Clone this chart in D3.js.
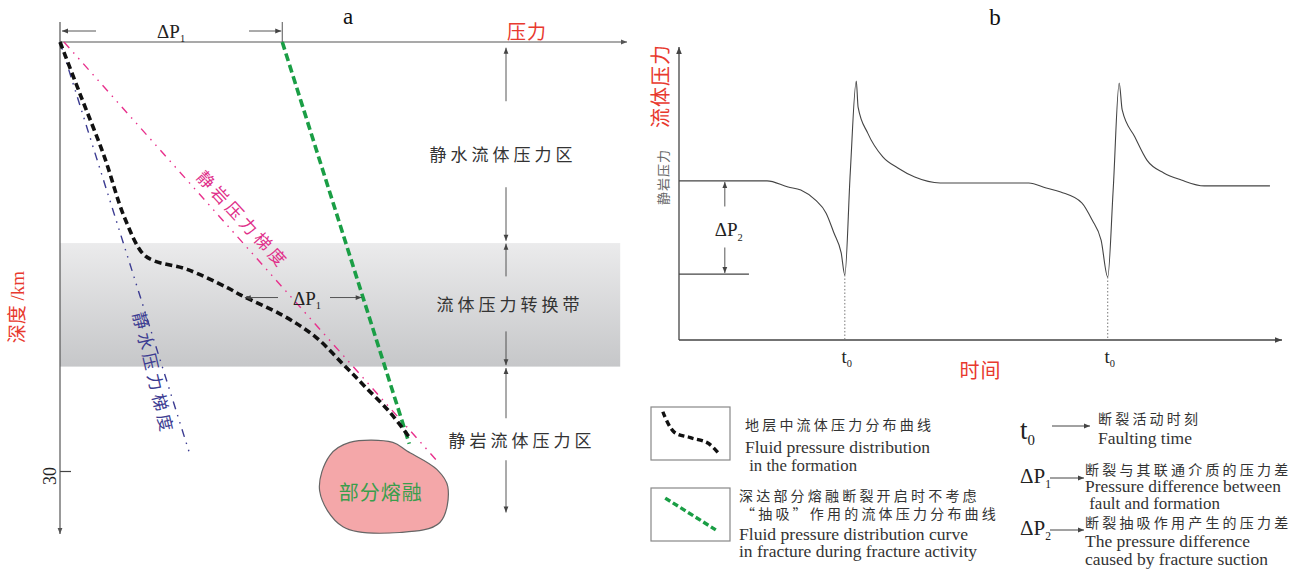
<!DOCTYPE html>
<html>
<head>
<meta charset="utf-8">
<script src="https://cdn.jsdelivr.net/npm/d3@7"></script>
<style>
  body { margin: 0; background: #fff; }
  svg { display: block; }
</style>
</head>
<body>
<svg width="1303" height="572"></svg>
<script>
// ---- panel a : pressure (relative units) vs depth (km) ----
var formationCurve = [[0,0],[3.4,3.5],[7.8,8.0],[11.3,12.2],[14.6,14.8],[16.6,15.3],[22.4,15.9],[29.6,17.2],
  [31.9,17.7],[39.2,19.1],[45.0,20.6],[50.1,22.6],[53.8,24.1],[58.2,25.9],[61.9,27.8]]
var fractureLine    = [[39.2,0],[61.6,28.1]]
var lithostaticLine = [[0.7,0],[66.3,29.2]]
var hydrostaticLine = [[0,0],[22.8,28.7]]
var meltOutline = [[45.8,31.4],[47.6,28.9],[51.1,28.0],[58.7,28.0],[61.2,28.6],[66.5,29.9],[68.4,31.1],
  [67.0,33.6],[59.9,34.3],[49.9,33.9]]
var transitionBand = [14.06, 22.7]
var zones = [
  {name: '静水流体压力区', top: 0.4,  bottom: 13.9},
  {name: '流体压力转换带', top: 14.1, bottom: 22.6},
  {name: '静岩流体压力区', top: 22.8, bottom: 32.9}
]
var depthTicks = [30]
var dp1Depth = 17.8

// ---- panel b : fluid pressure through time ----
var pressureSeries = [[0,54.3],[14.6,54.3],[18.1,52.2],[20.2,51.2],[22.6,47.8],[24.4,43.3],[25.7,36.5],[26.9,29.7],
  [27.5,22.2],[28.4,57.0],[29.4,88.4],[29.7,79.5],[31.3,70.6],[33.8,62.5],[36.3,58.7],[39.1,55.6],[43.3,53.6],
  [58.0,53.6],[60.9,51.9],[63.3,50.5],[66.8,46.8],[68.5,41.0],[70.0,34.1],[71.1,21.5],[72.0,51.2],[73.0,87.7],
  [73.5,78.5],[75.6,69.3],[77.6,61.4],[80.4,57.0],[83.3,54.6],[87.1,52.6],[98.0,52.6]]
var faultTimes = [27.5, 71.1]
var lithostaticLevel = 54.3
var suctionLevel = 22.5

// ---- legend ----
var legendCurves = [
  {zh: ['地层中流体压力分布曲线'], en: ['Fluid pressure distribution', ' in the formation'],
   sample: [[0.15,0.09],[0.29,0.47],[0.5,0.58],[0.72,0.68],[0.87,0.9]], kind: 'formation'},
  {zh: ['深达部分熔融断裂开启时不考虑', '“抽吸”作用的流体压力分布曲线'],
   en: ['Fluid pressure distribution curve', 'in fracture during fracture activity'],
   sample: [[0.18,0.19],[0.82,0.79]], kind: 'fracture'}
]
var symbolNotes = [
  {sym: 't', sub: '0', zh: '断裂活动时刻', en: ['Faulting time']},
  {sym: 'ΔP', sub: '1', zh: '断裂与其联通介质的压力差', en: ['Pressure difference between', ' fault and formation']},
  {sym: 'ΔP', sub: '2', zh: '断裂抽吸作用产生的压力差', en: ['The pressure difference', 'caused by fracture suction']}
]

var CJK = '"Noto Sans CJK SC", sans-serif'
var SERIF = '"Liberation Serif", "Times New Roman", serif'
var RED = '#e8392e'
var INK = '#333'

var svg = d3.select('svg')
var defs = svg.append('defs')

function marker(id, w, h, col) {
  defs.append('marker').attr('id', id)
    .attr('viewBox', '0 0 10 10').attr('refX', 10).attr('refY', 5)
    .attr('markerWidth', w).attr('markerHeight', h)
    .attr('markerUnits', 'userSpaceOnUse').attr('orient', 'auto')
    .append('path').attr('d', 'M0,1L10,5L0,9Z').attr('fill', col)
}
marker('tri', 7, 6, '#444')
marker('axis', 9, 7, '#444')
marker('thin', 8, 6, '#555')

var grad = defs.append('linearGradient').attr('id', 'band')
  .attr('x1', 0).attr('y1', 0).attr('x2', 0).attr('y2', 1)
grad.append('stop').attr('offset', '0%').attr('stop-color', '#ebebec')
grad.append('stop').attr('offset', '100%').attr('stop-color', '#c6c7c9')

function subText(g, x, y, main, sub, size, anchor) {
  var t = g.append('text').attr('x', x).attr('y', y)
    .attr('font-family', SERIF).attr('font-size', size).attr('fill', '#222')
    .attr('text-anchor', anchor || 'middle')
  t.append('tspan').text(main)
  t.append('tspan').attr('font-size', size * 0.55).attr('dy', size * 0.22).text(sub)
  return t
}

function arrow(g, x1, y1, x2, y2, m, w) {
  g.append('line').attr('x1', x1).attr('y1', y1).attr('x2', x2).attr('y2', y2)
    .attr('stroke', '#444').attr('stroke-width', w || 1)
    .attr('marker-end', 'url(#' + (m || 'tri') + ')')
}

// ================= panel a =================
var xA = d3.scaleLinear().domain([0, 100]).range([60, 627])
var yA = d3.scaleLinear().domain([0, 30]).range([42, 471])
var lineA = d3.line().x(d => xA(d[0])).y(d => yA(d[1]))
var ga = svg.append('g')

ga.append('rect')
  .attr('x', xA(0)).attr('width', xA(98.8) - xA(0))
  .attr('y', yA(transitionBand[0])).attr('height', yA(transitionBand[1]) - yA(transitionBand[0]))
  .attr('fill', 'url(#band)')

// axes
ga.append('line').attr('x1', xA(0)).attr('y1', yA(0)).attr('x2', xA(100)).attr('y2', yA(0))
  .attr('stroke', '#555').attr('stroke-width', 1.2).attr('marker-end', 'url(#thin)')
ga.append('line').attr('x1', xA(0)).attr('y1', yA(0) - 20).attr('x2', xA(0)).attr('y2', yA(34.4))
  .attr('stroke', '#555').attr('stroke-width', 1.2).attr('marker-end', 'url(#thin)')

var depthAxis = ga.append('g').attr('transform', 'translate(' + xA(0) + ',0)')
  .call(d3.axisRight(yA).tickValues(depthTicks).tickSize(11).tickFormat(''))
depthAxis.select('.domain').remove()
depthAxis.selectAll('line').attr('stroke', '#444').attr('stroke-width', 1.2)
depthTicks.forEach(function (t) {
  ga.append('text').attr('transform', 'translate(56,' + (yA(t) + 5) + ') rotate(-90)')
    .attr('text-anchor', 'middle').attr('font-family', SERIF).attr('font-size', 18)
    .attr('fill', '#222').text(t)
})

// axis titles
ga.append('text').attr('x', 348).attr('y', 24).attr('text-anchor', 'middle')
  .attr('font-family', SERIF).attr('font-size', 23).attr('fill', '#111').text('a')
ga.append('text').attr('x', 527).attr('y', 39).attr('text-anchor', 'middle')
  .attr('font-family', CJK).attr('font-size', 19).attr('letter-spacing', 1).attr('fill', RED).text('压力')
var dl = ga.append('text').attr('transform', 'translate(24,307) rotate(-90)').attr('text-anchor', 'middle')
  .attr('fill', RED).attr('font-size', 19)
dl.append('tspan').attr('font-family', CJK).text('深度')
dl.append('tspan').attr('font-family', SERIF).text(' /km')

// ΔP1 at the surface
var gx = xA(fractureLine[0][0])
ga.append('line').attr('x1', gx).attr('x2', gx).attr('y1', yA(0) - 20).attr('y2', yA(0))
  .attr('stroke', '#555').attr('stroke-width', 1)
arrow(ga, 96, 31, xA(0) + 2, 31, 'tri', 0.9)
arrow(ga, 249, 31, gx - 1, 31, 'tri', 0.9)
subText(ga, (xA(0) + gx) / 2, 38, 'ΔP', '1', 19)

// gradients
ga.append('path').datum(lithostaticLine).attr('d', lineA).attr('fill', 'none')
  .attr('stroke', '#e8308c').attr('stroke-width', 1.4).attr('stroke-dasharray', '8,6,1.5,6,1.5,6')
ga.append('path').datum(hydrostaticLine).attr('d', lineA).attr('fill', 'none')
  .attr('stroke', '#3c3c92').attr('stroke-width', 1.4).attr('stroke-dasharray', '8,6,1.5,6,1.5,6')

function labelAlong(pts, frac, offset, angAdj, txt, col) {
  var p0 = [xA(pts[0][0]), yA(pts[0][1])], p1 = [xA(pts[1][0]), yA(pts[1][1])]
  var ang = Math.atan2(p1[1] - p0[1], p1[0] - p0[0])
  var cx = p0[0] + (p1[0] - p0[0]) * frac - Math.sin(ang) * offset
  var cy = p0[1] + (p1[1] - p0[1]) * frac + Math.cos(ang) * offset
  ga.append('text').attr('transform', 'translate(' + cx + ',' + cy + ') rotate(' + (ang * 180 / Math.PI + angAdj) + ')')
    .attr('text-anchor', 'middle').attr('dy', '0.35em')
    .attr('font-family', CJK).attr('font-size', 17).attr('letter-spacing', 4)
    .attr('fill', col).text(txt)
}
labelAlong(lithostaticLine, 0.45, -15, -1, '静岩压力梯度', '#e0308a')
labelAlong(hydrostaticLine, 0.8, 11, 4, '静水压力梯度', '#3c3c92')

// partial melt
var meltPts = meltOutline.map(d => [xA(d[0]), yA(d[1])])
ga.append('path').attr('d', d3.line().curve(d3.curveCatmullRomClosed.alpha(0.5))(meltPts))
  .attr('fill', '#f4a7a9').attr('stroke', '#666').attr('stroke-width', 1.2)
var mc = d3.polygonCentroid(meltPts)
ga.append('text').attr('x', mc[0] - 2).attr('y', mc[1] + 12).attr('text-anchor', 'middle')
  .attr('font-family', CJK).attr('font-size', 20).attr('letter-spacing', 1)
  .attr('fill', '#3a9e4c').text('部分熔融')

// pressure curves
ga.append('path').datum(fractureLine).attr('d', lineA).attr('fill', 'none')
  .attr('stroke', '#1a9e45').attr('stroke-width', 3.6).attr('stroke-dasharray', '8,4')
ga.append('path').datum(formationCurve).attr('d', lineA.curve(d3.curveCatmullRom.alpha(0.5)))
  .attr('fill', 'none').attr('stroke', '#111').attr('stroke-width', 3.6).attr('stroke-dasharray', '7,4')
lineA.curve(d3.curveLinear)

// ΔP1 in the transition band
function xAtDepth(pts, dep) {
  for (var i = 1; i < pts.length; i++) {
    if (pts[i][1] >= dep) {
      var f = (dep - pts[i - 1][1]) / (pts[i][1] - pts[i - 1][1])
      return pts[i - 1][0] + f * (pts[i][0] - pts[i - 1][0])
    }
  }
}
var yd = yA(dp1Depth) + 1
var xl = xA(xAtDepth(formationCurve, dp1Depth)), xr = xA(xAtDepth(fractureLine, dp1Depth))
arrow(ga, 278, yd, xl + 1, yd, 'tri', 0.9)
arrow(ga, 330, yd, xr - 1, yd, 'tri', 0.9)
subText(ga, 307, yd + 7, 'ΔP', '1', 19)

// zones
var zoneGap = [[43, 43], [28, 27], [22, 20]]
zones.forEach(function (z, i) {
  var mid = (yA(z.top) + yA(z.bottom)) / 2
  var x = 506
  arrow(ga, x, mid - zoneGap[i][0], x, yA(z.top), 'tri', 0.9)
  arrow(ga, x, mid + zoneGap[i][1], x, yA(z.bottom), 'tri', 0.9)
  ga.append('text').attr('x', [503, 510, 522][i]).attr('y', mid + [17, 7, 7][i]).attr('text-anchor', 'middle')
    .attr('font-family', CJK).attr('font-size', 17).attr('letter-spacing', 4)
    .attr('fill', INK).text(z.name)
})

// ================= panel b =================
var xB = d3.scaleLinear().domain([0, 100]).range([679, 1282])
var yB = d3.scaleLinear().domain([0, 100]).range([340, 47])
var gb = svg.append('g')

gb.append('line').attr('x1', xB(0)).attr('y1', yB(0)).attr('x2', xB(100)).attr('y2', yB(0))
  .attr('stroke', '#444').attr('stroke-width', 1.3).attr('marker-end', 'url(#axis)')
gb.append('line').attr('x1', xB(0)).attr('y1', yB(0)).attr('x2', xB(0)).attr('y2', yB(100))
  .attr('stroke', '#444').attr('stroke-width', 1.3).attr('marker-end', 'url(#axis)')

gb.append('text').attr('x', 995).attr('y', 25).attr('text-anchor', 'middle')
  .attr('font-family', SERIF).attr('font-size', 23).attr('fill', '#111').text('b')
gb.append('text').attr('x', (xB(0) + xB(100)) / 2).attr('y', 378).attr('text-anchor', 'middle')
  .attr('font-family', CJK).attr('font-size', 20).attr('letter-spacing', 1).attr('fill', RED).text('时间')
gb.append('text').attr('transform', 'translate(668,86) rotate(-90)').attr('text-anchor', 'middle')
  .attr('font-family', CJK).attr('font-size', 20).attr('letter-spacing', 1).attr('fill', RED).text('流体压力')
gb.append('text').attr('transform', 'translate(668,' + (yB(lithostaticLevel) - 4) + ') rotate(-90)')
  .attr('text-anchor', 'middle').attr('font-family', CJK).attr('font-size', 13).attr('letter-spacing', 1)
  .attr('fill', '#666').text('静岩压力')

var lineB = d3.line().x(d => xB(d[0])).y(d => yB(d[1])).curve(d3.curveMonotoneX)
gb.append('path').datum(pressureSeries).attr('d', lineB).attr('fill', 'none')
  .attr('stroke', '#444').attr('stroke-width', 1.1)

faultTimes.forEach(function (t) {
  var low = pressureSeries.find(d => d[0] === t)
  gb.append('line').attr('x1', xB(t)).attr('x2', xB(t)).attr('y1', yB(low[1])).attr('y2', yB(0))
    .attr('stroke', '#777').attr('stroke-width', 1).attr('stroke-dasharray', '1.5,2')
  subText(gb, xB(t) + 2, 363, 't', '0', 19)
})

// ΔP2
gb.append('line').attr('x1', xB(0)).attr('x2', xB(11.6)).attr('y1', yB(suctionLevel)).attr('y2', yB(suctionLevel))
  .attr('stroke', '#444').attr('stroke-width', 1.1)
var ax = xB(7.6), ym = (yB(lithostaticLevel) + yB(suctionLevel)) / 2
arrow(gb, ax, ym - 21, ax, yB(lithostaticLevel) + 1, 'tri', 0.9)
arrow(gb, ax, ym + 20, ax, yB(suctionLevel) - 1, 'tri', 0.9)
subText(gb, ax + 4, ym + 9, 'ΔP', '2', 19)

// ================= legend =================
var gl = svg.append('g')
var boxes = [{x: 651, y: 407, tx: 745, zhY: [430], enY: [453, 471]},
             {x: 651, y: 488, tx: 739, zhY: [501, 519], enY: [540, 557]}]
var enLen = [[185, 112], [229, 238]]
legendCurves.forEach(function (c, i) {
  var b = boxes[i]
  gl.append('rect').attr('x', b.x).attr('y', b.y).attr('width', 79).attr('height', 53)
    .attr('fill', 'none').attr('stroke', '#888').attr('stroke-width', 1.2)
  var sx = d3.scaleLinear().range([b.x, b.x + 79]), sy = d3.scaleLinear().range([b.y, b.y + 53])
  gl.append('path').datum(c.sample)
    .attr('d', d3.line().x(d => sx(d[0])).y(d => sy(d[1])).curve(d3.curveCatmullRom.alpha(0.5)))
    .attr('fill', 'none').attr('stroke', c.kind === 'formation' ? '#111' : '#1a9e45')
    .attr('stroke-width', 3.4).attr('stroke-dasharray', c.kind === 'formation' ? '6,3.5' : '6,3')
  c.zh.forEach(function (s, j) {
    gl.append('text').attr('x', b.tx + (i === 1 && j === 1 ? 2 : 0)).attr('y', b.zhY[j])
      .attr('font-family', CJK).attr('font-size', 14).attr('letter-spacing', 3.2).attr('fill', INK).text(s)
  })
  c.en.forEach(function (s, j) {
    gl.append('text').attr('x', b.tx).attr('y', b.enY[j]).attr('xml:space', 'preserve')
      .attr('font-family', SERIF).attr('font-size', 17).attr('fill', INK)
      .attr('textLength', enLen[i][j]).attr('lengthAdjust', 'spacingAndGlyphs').text(s)
  })
})

var notes = [{symY: 439, arY: 426, ar: [1052, 1090], tx: 1098, zhY: 424, enY: [444]},
             {symY: 483, arY: 478, ar: [1050, 1084], tx: 1085, zhY: 475, enY: [492, 509]},
             {symY: 535, arY: 530, ar: [1050, 1084], tx: 1085, zhY: 528, enY: [547, 565]}]
var noteLen = [[94], [196, 135], [165, 183]]
symbolNotes.forEach(function (n, i) {
  var p = notes[i]
  subText(gl, 1020, p.symY, n.sym, n.sub, i === 0 ? 27 : 21, 'start')
  arrow(gl, p.ar[0], p.arY, p.ar[1], p.arY, 'tri', 1)
  gl.append('text').attr('x', p.tx).attr('y', p.zhY)
    .attr('font-family', CJK).attr('font-size', 14).attr('letter-spacing', 3.2).attr('fill', INK).text(n.zh)
  n.en.forEach(function (s, j) {
    gl.append('text').attr('x', p.tx).attr('y', p.enY[j]).attr('xml:space', 'preserve')
      .attr('font-family', SERIF).attr('font-size', i === 0 ? 16 : 17).attr('fill', INK)
      .attr('textLength', noteLen[i][j]).attr('lengthAdjust', 'spacingAndGlyphs').text(s)
  })
})
</script>
</body>
</html>
